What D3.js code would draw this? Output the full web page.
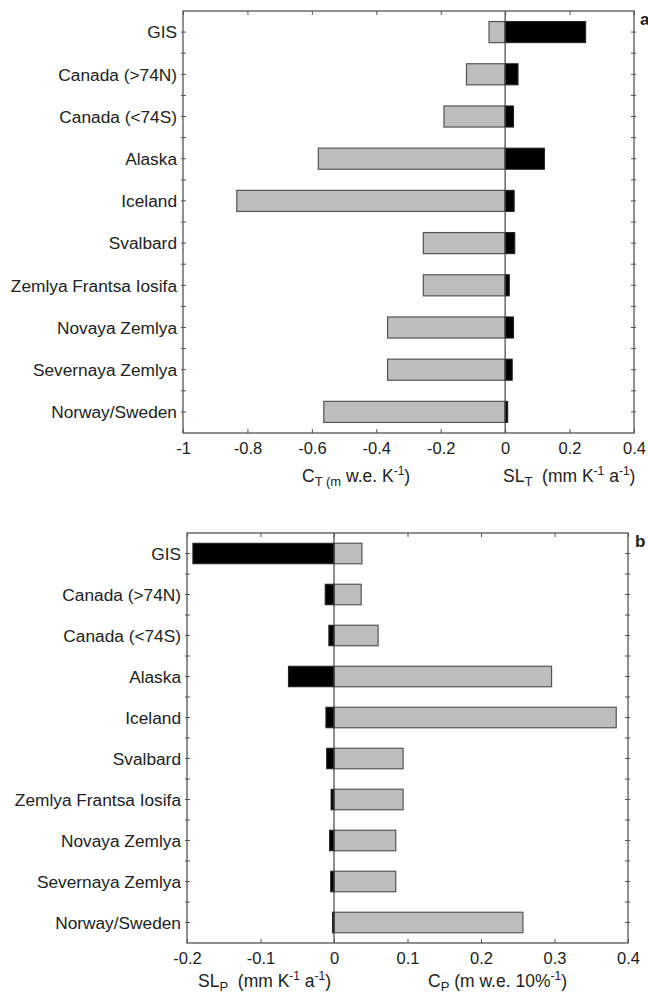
<!DOCTYPE html>
<html>
<head>
<meta charset="utf-8">
<script src="https://cdn.jsdelivr.net/npm/d3@7"></script>
<style>
  body { margin: 0; background: #fff; }
  svg text { font-family: "Liberation Sans", Arial, sans-serif; fill: #222; }
</style>
</head>
<body>
<svg id="chart" width="648" height="1001"></svg>
<script>
// regions, top to bottom
const regions = ['GIS', 'Canada (>74N)', 'Canada (<74S)', 'Alaska', 'Iceland', 'Svalbard',
  'Zemlya Frantsa Iosifa', 'Novaya Zemlya', 'Severnaya Zemlya', 'Norway/Sweden'];

// panel a: C_T (grey) and SL_T (black)
const cT = [-0.05, -0.12, -0.19, -0.58, -0.833, -0.254, -0.254, -0.365, -0.365, -0.563];
const slT = [0.25, 0.04, 0.026, 0.122, 0.028, 0.03, 0.013, 0.026, 0.022, 0.008];

// panel b: SL_P (black) and C_P (grey)
const slP = [-0.192, -0.012, -0.007, -0.062, -0.011, -0.01, -0.004, -0.006, -0.0045, -0.002];
const cP = [0.038, 0.037, 0.06, 0.296, 0.384, 0.094, 0.094, 0.084, 0.084, 0.257];

const ticksA = [-1, -0.8, -0.6, -0.4, -0.2, 0, 0.2, 0.4];
const ticksB = [-0.2, -0.1, 0, 0.1, 0.2, 0.3, 0.4];

const svg = d3.select('#chart');
const frameCol = '#555';

function panel(opts) {
  const { left, right, top, bottom, domain, ticks, grey, black, letter, letterX, letterY } = opts;
  const g = svg.append('g');

  const x = d3.scaleLinear().domain(domain).range([left, right]);
  const y = d3.scaleBand().domain(regions).range([top, bottom])
    .paddingInner(0.5).paddingOuter(0.25);
  const step = y.step();

  // grey bars
  g.selectAll('rect.grey')
    .data(regions)
    .enter().append('rect')
    .attr('class', 'grey')
    .attr('x', (d, i) => x(Math.min(0, grey[i])))
    .attr('y', d => y(d))
    .attr('width', (d, i) => Math.abs(x(grey[i]) - x(0)))
    .attr('height', y.bandwidth())
    .attr('fill', '#bdbdbd')
    .attr('stroke', '#555')
    .attr('stroke-width', 1.2);

  // black bars
  g.selectAll('rect.black')
    .data(regions)
    .enter().append('rect')
    .attr('class', 'black')
    .attr('x', (d, i) => x(Math.min(0, black[i])))
    .attr('y', d => y(d))
    .attr('width', (d, i) => Math.abs(x(black[i]) - x(0)))
    .attr('height', y.bandwidth())
    .attr('fill', '#000')
    .attr('stroke', '#222')
    .attr('stroke-width', 1);

  // zero line
  g.append('line')
    .attr('x1', x(0)).attr('x2', x(0))
    .attr('y1', top).attr('y2', bottom)
    .attr('stroke', '#444')
    .attr('stroke-width', 1.2);

  // frame
  g.append('rect')
    .attr('x', left).attr('y', top)
    .attr('width', right - left).attr('height', bottom - top)
    .attr('fill', 'none')
    .attr('stroke', frameCol)
    .attr('stroke-width', 1.3);

  // x ticks, inward on top and bottom
  const ax = g.append('g')
    .attr('transform', `translate(0,${bottom})`)
    .call(d3.axisBottom(x).tickValues(ticks).tickSize(-4).tickPadding(9));
  ax.select('.domain').remove();
  ax.selectAll('.tick line').attr('stroke', frameCol);
  ax.selectAll('.tick text')
    .style('font-size', '16.5px')
    .attr('fill', '#222')
    .text(d => d === -1 ? '-1' : d === 0 ? '0' : String(d).replace('−', '-'));

  const axTop = g.append('g')
    .attr('transform', `translate(0,${top})`)
    .call(d3.axisTop(x).tickValues(ticks).tickSize(-4).tickFormat(''));
  axTop.select('.domain').remove();
  axTop.selectAll('.tick line').attr('stroke', frameCol);

  // y ticks at category centres and boundaries, both sides
  const yTicks = [];
  regions.forEach(r => {
    yTicks.push(y(r) + y.bandwidth() / 2);
    yTicks.push(y(r) - step * 0.25);
  });
  const inside = yTicks.filter(v => v > top + 1 && v < bottom - 1);
  g.selectAll('line.yl')
    .data(inside)
    .enter().append('line')
    .attr('x1', left - 2).attr('x2', left + 3)
    .attr('y1', d => d).attr('y2', d => d)
    .attr('stroke', frameCol);
  g.selectAll('line.yr')
    .data(inside)
    .enter().append('line')
    .attr('x1', right - 3).attr('x2', right + 2)
    .attr('y1', d => d).attr('y2', d => d)
    .attr('stroke', frameCol);

  // category labels
  g.selectAll('text.cat')
    .data(regions)
    .enter().append('text')
    .attr('class', 'cat')
    .attr('x', left - 6)
    .attr('y', d => y(d) + y.bandwidth() / 2)
    .attr('dy', '0.36em')
    .attr('text-anchor', 'end')
    .style('font-size', '17.3px')
    .text(d => d);

  // panel letter
  g.append('text')
    .attr('x', letterX).attr('y', letterY)
    .style('font-size', '17px')
    .style('font-weight', 'bold')
    .attr('fill', '#111')
    .text(letter);

  return { g, x };
}

// builds a label made of pieces: [text, kind] where kind is 'n', 'sub', 'sup'
function richLabel(parent, xPos, yPos, pieces) {
  const t = parent.append('text')
    .attr('x', xPos).attr('y', yPos)
    .style('font-size', '17.5px')
    .style('white-space', 'pre');
  let shift = 0;
  pieces.forEach(([s, kind]) => {
    let target = 0, size = '17.5px';
    if (kind === 'sub') { target = 4; size = '13px'; }
    if (kind === 'sup') { target = -7; size = '12px'; }
    t.append('tspan')
      .attr('dy', target - shift)
      .style('font-size', size)
      .text(s);
    shift = target;
  });
  return t;
}

// panel a
const a = panel({
  left: 183, right: 634, top: 11, bottom: 433,
  domain: [-1, 0.4], ticks: ticksA, grey: cT, black: slT,
  letter: 'a', letterX: 640, letterY: 25
});
richLabel(a.g, 302, 482, [['C', 'n'], ['T (m', 'sub'], [' w.e. K', 'n'], ['-1', 'sup'], [')', 'n']]);
richLabel(a.g, 503, 482, [['SL', 'n'], ['T', 'sub'], ['  (mm K', 'n'], ['-1', 'sup'], [' a', 'n'], ['-1', 'sup'], [')', 'n']]);

// panel b
const b = panel({
  left: 187, right: 628, top: 533, bottom: 943,
  domain: [-0.2, 0.4], ticks: ticksB, grey: cP, black: slP,
  letter: 'b', letterX: 635, letterY: 547
});
richLabel(b.g, 198, 987, [['SL', 'n'], ['P', 'sub'], ['  (mm K', 'n'], ['-1', 'sup'], [' a', 'n'], ['-1', 'sup'], [')', 'n']]);
richLabel(b.g, 428, 987, [['C', 'n'], ['P', 'sub'], [' (m w.e. 10%', 'n'], ['-1', 'sup'], [')', 'n']]);
</script>
</body>
</html>
